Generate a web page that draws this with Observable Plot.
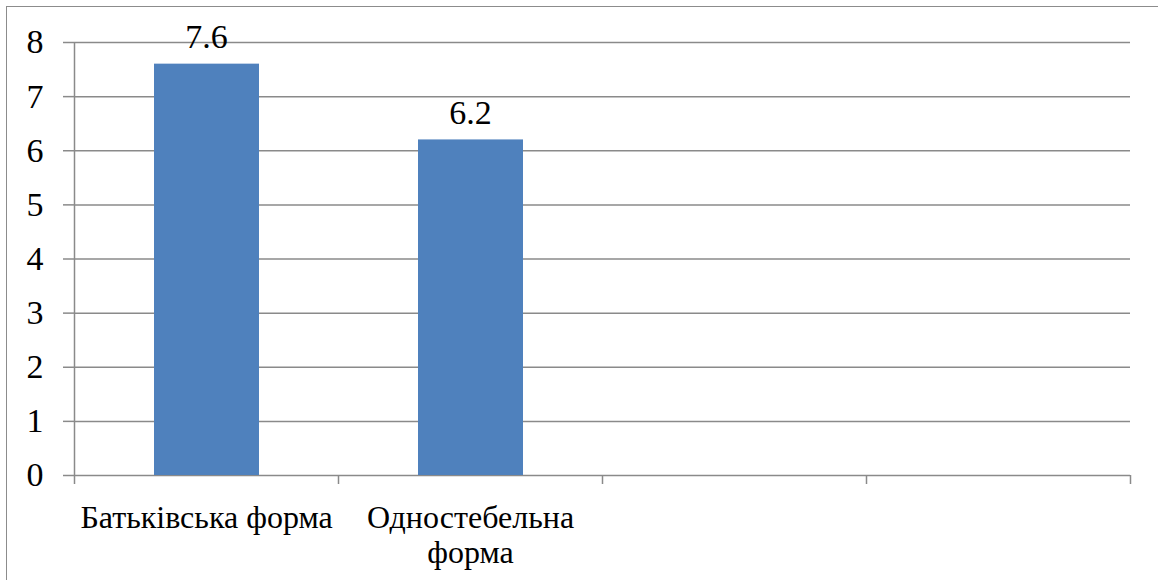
<!DOCTYPE html>
<html><head><meta charset="utf-8">
<script src="https://cdn.jsdelivr.net/npm/d3@7"></script>
<script src="https://cdn.jsdelivr.net/npm/@observablehq/plot@0.6"></script>
<style>
html,body{margin:0;padding:0;background:#fff;overflow:hidden;}
#wrap{position:relative;width:1158px;height:580px;overflow:hidden;}
#frame{position:absolute;left:6px;top:6px;width:1200px;height:700px;border:1.5px solid #8c8c8c;pointer-events:none;}
</style></head><body>
<div id="wrap"><div id="frame"></div></div>
<script>
const categories = ["Батьківська форма", "Одностебельна форма", "", ""];
const tickLabels = ["Батьківська форма", "Одностебельна\nформа", "", ""];
const values = [7.6, 6.2, null, null];
const yTicks = [0, 1, 2, 3, 4, 5, 6, 7, 8];

const data = categories.map((c, i) => ({i, category: c, value: values[i]}));
const bars = data.filter(d => d.value != null);
const boundaries = d3.range(categories.length + 1);
const centers = categories.map((c, i) => i + 0.5);
const gray = "#8a8a8a";
const serif = "Liberation Serif";

const chart = Plot.plot({
  width: 1158, height: 580,
  marginLeft: 74, marginRight: 28, marginTop: 42, marginBottom: 105,
  style: {color: "#000", background: "transparent"},
  x: {type: "linear", domain: [0, categories.length]},
  y: {domain: [0, 8]},
  marks: [
    Plot.ruleY(yTicks, {stroke: gray, strokeWidth: 1.5}),
    Plot.ruleX([0], {stroke: gray, strokeWidth: 1.5}),
    Plot.axisY({ticks: yTicks, tickSize: 11, tickPadding: 20, fontSize: 34, fontFamily: serif, stroke: gray, strokeWidth: 1.5, fill: "#000", label: null}),
    Plot.axisX({ticks: boundaries, tickFormat: () => "", tickSize: 9, stroke: gray, strokeWidth: 1.5, label: null}),
    Plot.axisX({ticks: centers, tickFormat: d => tickLabels[Math.floor(d)], tickSize: 0, tickPadding: 27, fontSize: 32, fontFamily: serif, lineHeight: 1.1, fill: "#000", label: null}),
    Plot.rectY(bars, {x1: "i", x2: d => d.i + 1, y: "value", fill: "#4F81BD", insetLeft: 80, insetRight: 79}),
    Plot.text(bars, {x: d => d.i + 0.5, y: "value", text: d => d.value.toFixed(1), dy: -16, lineAnchor: "bottom", fontSize: 34, fontFamily: serif, fill: "#000"})
  ]
});
function applySerif() {
  d3.select(chart).style("font-family", serif, "important")
    .selectAll("g, text, tspan")
    .attr("font-family", serif)
    .style("font-family", serif, "important");
}
applySerif();
document.getElementById("wrap").prepend(chart);
applySerif();
requestAnimationFrame(applySerif);
setTimeout(applySerif, 0);
</script>
</body></html>
